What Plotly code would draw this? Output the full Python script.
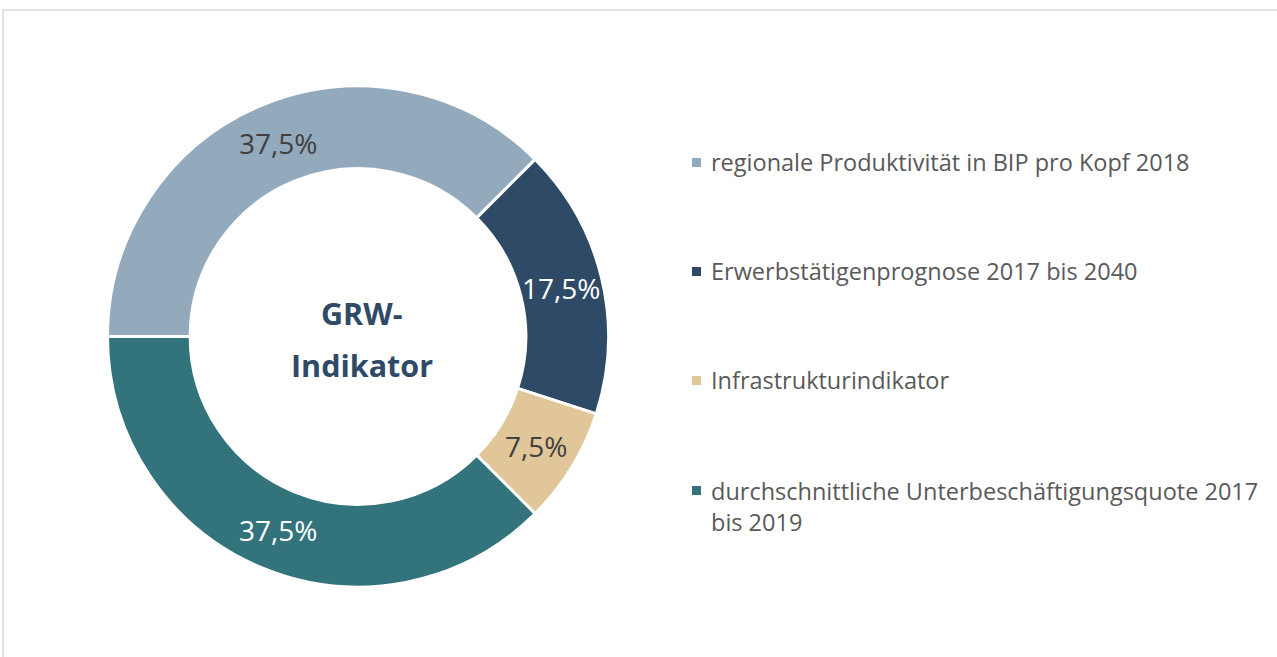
import math
import plotly.graph_objects as go

labels = [
    "regionale Produktivität in BIP pro Kopf 2018",
    "Erwerbstätigenprognose 2017 bis 2040",
    "Infrastrukturindikator",
    "durchschnittliche Unterbeschäftigungsquote 2017<br>bis 2019",
]
values = [37.5, 17.5, 7.5, 37.5]
colors = ["#93A9BC", "#2E4A66", "#E0C699", "#32737C"]
text_colors = ["#404040", "#FFFFFF", "#404040", "#FFFFFF"]
center_lines = ["GRW-", "Indikator"]

W, H = 1277, 657

def px(x):
    return x / W

def py(y):
    return 1 - y / H

# donut geometry (pixels)
CX, CY, R_OUT = 358, 336.5, 250.5
HOLE = 0.67
START = 270  # degrees clockwise from 12 o'clock

fig = go.Figure()
fig.add_trace(go.Pie(
    labels=labels,
    values=values,
    hole=HOLE,
    sort=False,
    direction="clockwise",
    rotation=START,
    marker=dict(colors=colors, line=dict(color="white", width=3)),
    textinfo="none",
    domain=dict(x=[px(CX - R_OUT), px(CX + R_OUT)], y=[py(CY + R_OUT), py(CY - R_OUT)]),
    showlegend=False,
    hoverinfo="label+percent",
))

annotations = []

# percentage labels at the middle of each ring segment
total = sum(values)
r_mid = R_OUT * (1 + HOLE) / 2
cum = 0.0
for v, tc in zip(values, text_colors):
    ang = math.radians(START + 360 * (cum + v / 2) / total)
    cum += v
    x = CX + r_mid * math.sin(ang)
    y = CY - r_mid * math.cos(ang)
    pct = f"{100 * v / total:.1f}".replace(".", ",") + "%"
    annotations.append(dict(
        text=pct, x=px(x), y=py(y), xref="paper", yref="paper",
        xanchor="center", yanchor="middle", showarrow=False,
        font=dict(family="Open Sans", size=28, color=tc),
    ))

for line, yy in zip(center_lines, [313, 365]):
    annotations.append(dict(
        text="<b>" + line + "</b>",
        x=px(362), y=py(yy), xref="paper", yref="paper",
        xanchor="center", yanchor="middle",
        showarrow=False, font=dict(family="Open Sans", size=30.5, color="#2E4A66"),
    ))

shapes = [dict(
    type="rect", xref="paper", yref="paper",
    x0=px(3), y0=-0.05, x1=1.05, y1=py(10),
    line=dict(color="#D9D9D9", width=1.5), fillcolor="rgba(0,0,0,0)",
)]

legend_y = [162, 271, 380, 490]
for lab, col, yy in zip(labels, colors, legend_y):
    nlines = lab.count("<br>") + 1
    annotations.append(dict(
        text=lab, x=px(709), y=py(yy + 16 * (nlines - 1)), xref="paper", yref="paper",
        xanchor="left", yanchor="middle", showarrow=False, align="left",
        font=dict(family="Open Sans", size=23.5, color="#595959"),
    ))
    shapes.append(dict(
        type="rect", xref="paper", yref="paper",
        x0=px(692), x1=px(701), y0=py(yy + 5), y1=py(yy - 4),
        fillcolor=col, line=dict(width=0),
    ))

fig.update_layout(
    width=W, height=H,
    margin=dict(l=0, r=0, t=0, b=0),
    paper_bgcolor="white",
    separators=",.",
    annotations=annotations,
    shapes=shapes,
)

fig.write_html("out.html", config={"displayModeBar": False},
               post_script="document.body.style.margin='0';")
